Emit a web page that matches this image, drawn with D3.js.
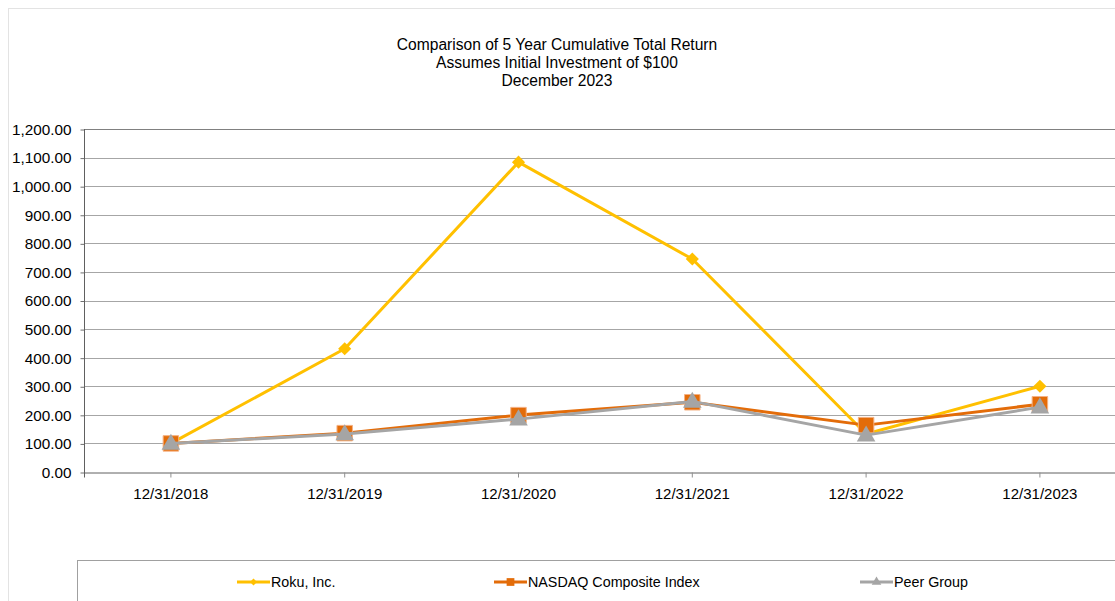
<!DOCTYPE html>
<html>
<head>
<meta charset="utf-8">
<script src="https://cdn.jsdelivr.net/npm/d3@7"></script>
<style>
  body { margin: 0; background: #fff; }
  text { font-family: "Liberation Sans", Arial, sans-serif; fill: #000; }
</style>
</head>
<body>
<svg id="chart"></svg>
<script>
var width = 1115,
    height = 601;

// Data
var years = ['12/31/2018', '12/31/2019', '12/31/2020', '12/31/2021', '12/31/2022', '12/31/2023'];
var roku = [100, 431, 1084, 745, 133, 300];
var nasdaq = [100, 136, 199, 244, 164, 237];
var peer = [100, 133, 185, 247, 129, 227];
var yTicks = [0, 100, 200, 300, 400, 500, 600, 700, 800, 900, 1000, 1100, 1200];
var titleLines = ['Comparison of 5 Year Cumulative Total Return', 'Assumes Initial Investment of $100', 'December 2023'];

var series = [
  { name: 'Roku, Inc.', values: roku, color: '#ffc000', marker: 'diamond' },
  { name: 'NASDAQ Composite Index', values: nasdaq, color: '#e36c09', marker: 'square' },
  { name: 'Peer Group', values: peer, color: '#a5a5a5', marker: 'triangle' }
];

var plotLeft = 84, plotTop = 129, plotBottom = 472;
var band = 173.8;

var x = d3.scaleBand()
  .domain(years)
  .range([plotLeft, plotLeft + band * years.length]);

var y = d3.scaleLinear()
  .domain([0, 1200])
  .range([plotBottom, plotTop]);

function cx(d) { return x(d) + x.bandwidth() / 2; }

var svg = d3.select('#chart')
  .attr('width', width)
  .attr('height', height);

// outer frame
svg.append('rect')
  .attr('x', 8.5).attr('y', 8.5)
  .attr('width', width).attr('height', height)
  .attr('fill', 'none')
  .attr('stroke', '#e3e3e3');

// titles
svg.selectAll('.title')
  .data(titleLines)
  .join('text')
  .attr('class', 'title')
  .attr('x', 557)
  .attr('y', (d, i) => 50 + i * 18)
  .attr('text-anchor', 'middle')
  .style('font-size', '15.6px')
  .text(d => d);

// gridlines
svg.append('g')
  .selectAll('line')
  .data(yTicks.filter(d => d > 0))
  .join('line')
  .attr('x1', plotLeft).attr('x2', width)
  .attr('y1', d => Math.round(y(d)) + 0.5)
  .attr('y2', d => Math.round(y(d)) + 0.5)
  .attr('stroke', d => d === 1200 ? '#808080' : '#a6a6a6')
  .attr('stroke-width', 1);

// y axis
var yAxis = d3.axisLeft(y)
  .tickValues(yTicks)
  .tickSize(4)
  .tickPadding(9)
  .tickFormat(d3.format(',.2f'));

var gy = svg.append('g')
  .attr('transform', 'translate(' + (plotLeft + 0.5) + ',0.5)')
  .call(yAxis);
gy.select('.domain').remove();
gy.selectAll('.tick line').attr('stroke', '#707070');
gy.selectAll('.tick text')
  .style('font-size', '15.3px')
  .style('font-family', '"Liberation Sans", Arial, sans-serif')
  .attr('fill', '#000');

svg.append('line')
  .attr('x1', plotLeft + 0.5).attr('x2', plotLeft + 0.5)
  .attr('y1', plotTop).attr('y2', plotBottom + 1)
  .attr('stroke', '#606060');

// x axis
var xAxis = d3.axisBottom(x)
  .tickSize(5)
  .tickPadding(11);

var gx = svg.append('g')
  .attr('transform', 'translate(0,' + (Math.round(y(0)) + 0.5) + ')')
  .call(xAxis);
gx.select('.domain').attr('stroke', '#606060');
gx.selectAll('.tick line').attr('stroke', '#909090');
gx.selectAll('.tick text')
  .style('font-size', '15px')
  .style('font-family', '"Liberation Sans", Arial, sans-serif')
  .attr('fill', '#000');

// marker shapes
var symbols = {
  diamond: { type: d3.symbolDiamond2, size: 110 },
  square: { type: d3.symbolSquare, size: 240 },
  triangle: { type: d3.symbolTriangle, size: 150 }
};

var line = d3.line()
  .x((d, i) => cx(years[i]))
  .y(d => y(d));

var lines = svg.append('g');
series.forEach(function(s) {
  var g = lines.append('g');
  g.append('path')
    .attr('d', line(s.values))
    .attr('fill', 'none')
    .attr('stroke', s.color)
    .attr('stroke-width', 3)
    .attr('stroke-linejoin', 'round');
  var sym = d3.symbol().type(symbols[s.marker].type).size(symbols[s.marker].size);
  g.selectAll('path.mk')
    .data(s.values)
    .join('path')
    .attr('class', 'mk')
    .attr('d', sym)
    .attr('transform', (d, i) => 'translate(' + cx(years[i]) + ',' + (y(d) + (s.marker === 'triangle' ? 1 : 0)) + ')')
    .attr('fill', s.color)
    .attr('stroke', s.marker === 'square' ? '#f4b183' : 'none')
    .attr('stroke-width', 1);
});

// legend box
svg.append('rect')
  .attr('x', 77.5).attr('y', 560.5)
  .attr('width', width).attr('height', 100)
  .attr('fill', 'none')
  .attr('stroke', '#a0a0a0');

var legendX = [237, 494, 860];
var legendSizes = { diamond: 30, square: 60, triangle: 40 };
series.forEach(function(s, i) {
  var g = svg.append('g').attr('transform', 'translate(' + legendX[i] + ',582)');
  var w = 33;
  g.append('line')
    .attr('x1', 0).attr('x2', w)
    .attr('stroke', s.color)
    .attr('stroke-width', 3);
  g.append('path')
    .attr('d', d3.symbol().type(symbols[s.marker].type).size(legendSizes[s.marker]))
    .attr('transform', 'translate(' + (w / 2) + ',0)')
    .attr('fill', s.color);
  g.append('text')
    .attr('x', w + 1)
    .attr('dy', '0.35em')
    .style('font-size', '14.3px')
    .text(s.name);
});
</script>
</body>
</html>
